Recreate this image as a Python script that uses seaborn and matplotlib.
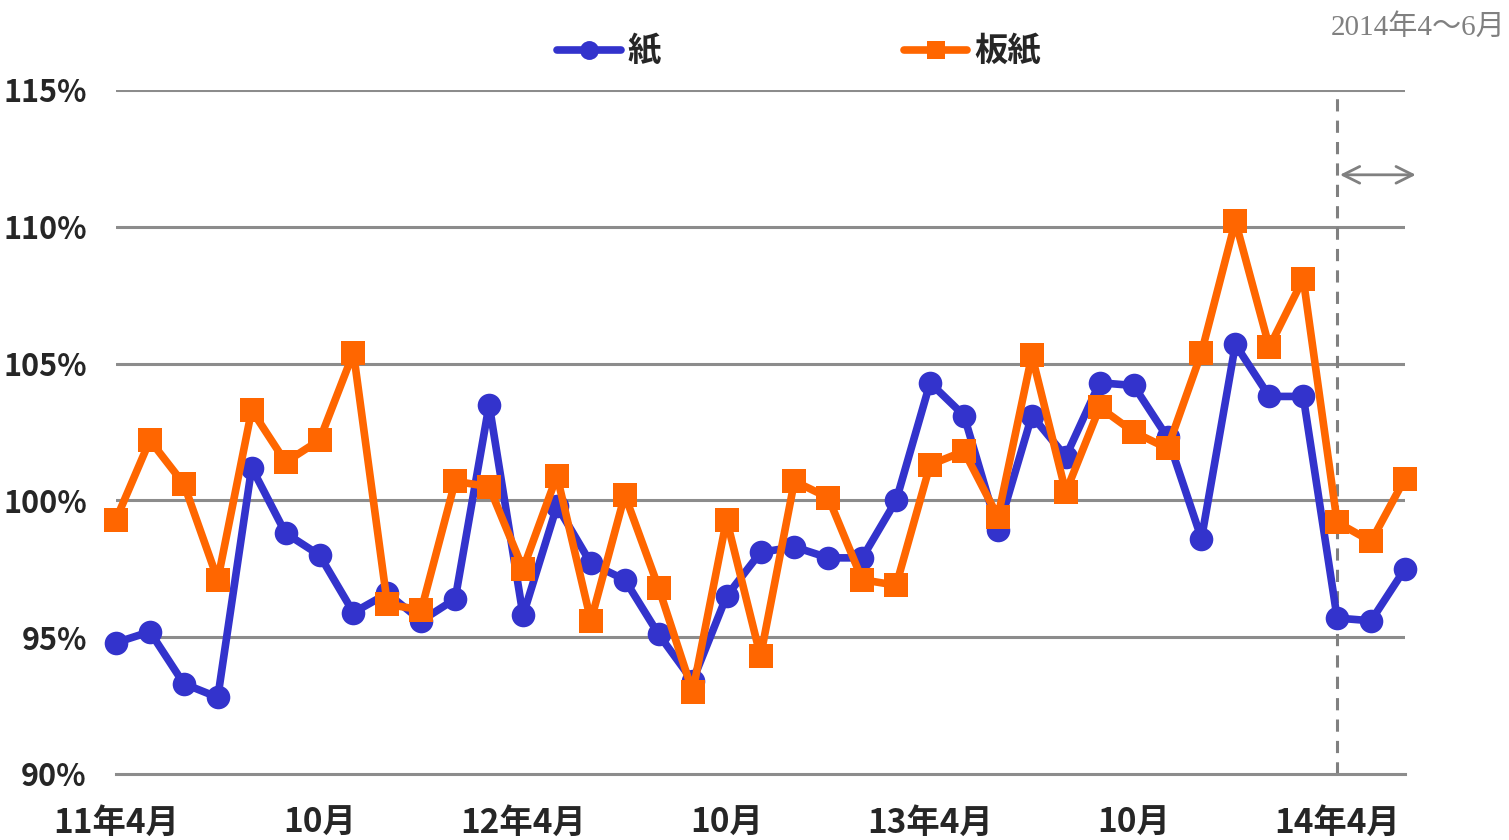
import matplotlib
matplotlib.use('Agg')
import matplotlib.pyplot as plt
import seaborn as sns
import numpy as np
import pandas as pd

# data (Apr 2011 - Jun 2014, monthly, % vs previous year)
paper = [94.8, 95.2, 93.3, 92.8, 101.2, 98.8, 98.0, 95.9, 96.6, 95.6,
         96.4, 103.5, 95.8, 99.8, 97.7, 97.1, 95.1, 93.4, 96.5, 98.1,
         98.3, 97.9, 97.9, 100.0, 104.3, 103.1, 98.9, 103.1, 101.6,
         104.3, 104.2, 102.3, 98.6, 105.7, 103.8, 103.8, 95.7, 95.6, 97.5]
board = [99.3, 102.2, 100.6, 97.1, 103.3, 101.4, 102.2, 105.4, 96.2, 96.0,
         100.7, 100.5, 97.5, 100.9, 95.6, 100.2, 96.8, 93.0, 99.3, 94.3,
         100.7, 100.1, 97.1, 96.9, 101.3, 101.8, 99.4, 105.3, 100.3,
         103.4, 102.5, 101.9, 105.4, 110.2, 105.6, 108.1, 99.2, 98.5, 100.8]
tick_labels = ['11年4月', '10月', '12年4月', '10月', '13年4月', '10月', '14年4月']
y_ticks = [90, 95, 100, 105, 110, 115]
series_names = ['紙', '板紙']

months = np.arange(len(paper))
df = pd.DataFrame({'month': months, 'paper': paper, 'board': board})

sns.set_style('white')
plt.rcParams['font.family'] = ['Noto Sans CJK JP', 'DejaVu Sans']

fig = plt.figure(figsize=(15.09, 8.4), dpi=100)
ax = fig.add_axes([116 / 1509, 1 - 774 / 840, (1405 - 116) / 1509, (774 - 90) / 840])

blue = '#3333CC'
orange = '#FF6600'
grid_gray = '#8c8c8c'

for y in y_ticks[1:]:
    ax.axhline(y, color=grid_gray, lw=2.2, zorder=1)

sns.lineplot(data=df, x='month', y='paper', ax=ax, color=blue, lw=5.5,
             marker='o', markersize=17, markeredgewidth=0, clip_on=False,
             zorder=3, label=series_names[0])
sns.lineplot(data=df, x='month', y='board', ax=ax, color=orange, lw=5.5,
             marker='s', markersize=17, markeredgewidth=0, clip_on=False,
             zorder=4, label=series_names[1])

ax.set_xlim(0, len(paper) - 1)
ax.set_ylim(90, 115)

# x axis: ticks every 3 months, labels every 6
ax.set_xticks(range(0, 37, 3))
ax.set_xticklabels([tick_labels[i // 2] if i % 2 == 0 else '' for i in range(13)],
                   fontsize=24, fontweight='bold')
ax.set_yticks(y_ticks)
ax.set_yticklabels([f'{v}%' for v in y_ticks], fontsize=22, fontweight='bold')
ax.tick_params(axis='x', direction='in', length=9, width=2, color=grid_gray, pad=24)
ax.tick_params(axis='y', length=0, pad=21)
ax.set_xlabel('')
ax.set_ylabel('')

for s in ['left', 'right', 'top']:
    ax.spines[s].set_visible(False)
ax.spines['bottom'].set_color(grid_gray)
ax.spines['bottom'].set_linewidth(2.2)

# 2014 Apr-Jun marker
ax.plot([36, 36], [90, 114.7], color='#808080', lw=2.2, ls=(0, (4, 3)),
        zorder=2, clip_on=False)
ax.annotate('', xy=(38.4, 111.9), xytext=(36, 111.9),
            arrowprops=dict(arrowstyle='<->', color='#808080', lw=2,
                            mutation_scale=30),
            annotation_clip=False)
fig.text(0.998, 0.967, '2014年4〜6月', ha='right', va='center', fontsize=21,
         color='#808080', family=['Liberation Serif', 'Noto Sans CJK JP'])

leg = ax.legend(loc='center', bbox_to_anchor=(799 / 1509, 1 - 52 / 840),
                bbox_transform=fig.transFigure, ncol=2, frameon=False,
                prop={'size': 24, 'weight': 'bold'}, handlelength=1.9,
                handletextpad=0.2, columnspacing=7.3, markerscale=0.8)

fig.savefig('out.png', dpi=100)
